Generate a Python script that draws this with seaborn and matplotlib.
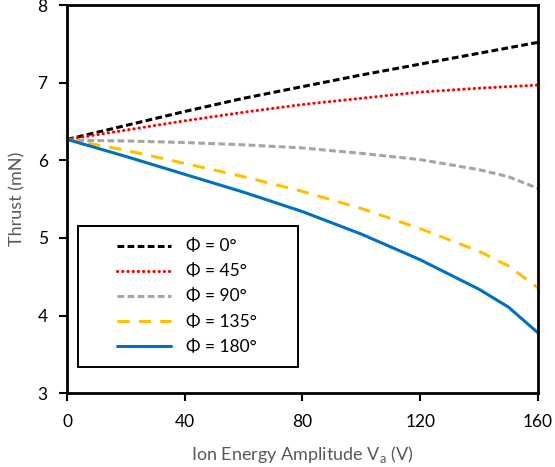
import matplotlib
matplotlib.use("Agg")
import matplotlib.pyplot as plt
from matplotlib.patches import Rectangle
import seaborn as sns
import pandas as pd

sns.set_theme(style="white")
plt.rcParams['font.family'] = ['Lato', 'DejaVu Sans']

# Ion energy amplitude (V)
va = [0, 20, 40, 60, 80, 100, 120, 140, 150, 160]

# Thrust (mN) for each phase
thrust_0 = [6.27, 6.45, 6.63, 6.80, 6.95, 7.10, 7.24, 7.38, 7.45, 7.52]
thrust_45 = [6.27, 6.39, 6.51, 6.62, 6.72, 6.80, 6.88, 6.93, 6.95, 6.97]
thrust_90 = [6.26, 6.25, 6.23, 6.20, 6.16, 6.09, 6.01, 5.88, 5.79, 5.64]
thrust_135 = [6.27, 6.13, 5.96, 5.79, 5.60, 5.38, 5.12, 4.83, 4.64, 4.36]
thrust_180 = [6.27, 6.05, 5.82, 5.59, 5.34, 5.05, 4.72, 4.34, 4.11, 3.78]

labels = ['Φ = 0°', 'Φ = 45°', 'Φ = 90°', 'Φ = 135°', 'Φ = 180°']
series = [thrust_0, thrust_45, thrust_90, thrust_135, thrust_180]
colors = ['#000000', '#FF0000', '#A5A5A5', '#FFC000', '#0070C0']
dashes = [(2.2, 1.1), (0.1, 1.6), (2.2, 1.1), (4.0, 3.0), None]

fig = plt.figure(figsize=(5.55, 4.67), dpi=100)
ax = fig.add_axes([0.121, 0.158, 0.848, 0.831])

for y, lab, c, d in zip(series, labels, colors, dashes):
    df = pd.DataFrame({'va': va, 'thrust': y})
    sns.lineplot(data=df, x='va', y='thrust', ax=ax, color=c, linewidth=2.2, label=lab)
    line = ax.get_lines()[-1]
    if d is not None:
        line.set_dashes(d)
        if d[0] < 0.5:
            line.set_dash_capstyle('round')

ax.set_xlim(0, 160)
ax.set_ylim(3, 8)
ax.set_xticks([0, 40, 80, 120, 160])
ax.set_yticks([3, 4, 5, 6, 7, 8])
ax.tick_params(axis='both', direction='out', length=6, width=1.5, color='black',
               labelsize=12.5, labelcolor='#000000', bottom=True, left=True)
ax.tick_params(axis='y', pad=8)
ax.tick_params(axis='x', pad=9)

for s in ax.spines.values():
    s.set_color('black')
    s.set_linewidth(2)

ax.set_xlabel('Ion Energy Amplitude V$_\\mathregular{a}$ (V)', fontsize=13, color='#595959', labelpad=10)
ax.set_ylabel('Thrust (mN)', fontsize=13, color='#595959', labelpad=9)

# legend frame drawn separately so entries can sit centred in a wider box
ax.add_patch(Rectangle((0.022, 0.067), 0.468, 0.363, transform=ax.transAxes,
                       facecolor='white', edgecolor='black', linewidth=1.4, zorder=4))
leg = ax.legend(loc='center', bbox_to_anchor=(0.255, 0.2485), frameon=False,
                fontsize=12.5, handlelength=3.1, labelspacing=0.52,
                handletextpad=0.9)
leg.set_zorder(5)
for t in leg.get_texts():
    t.set_color('black')

fig.savefig('out.png', dpi=100)
